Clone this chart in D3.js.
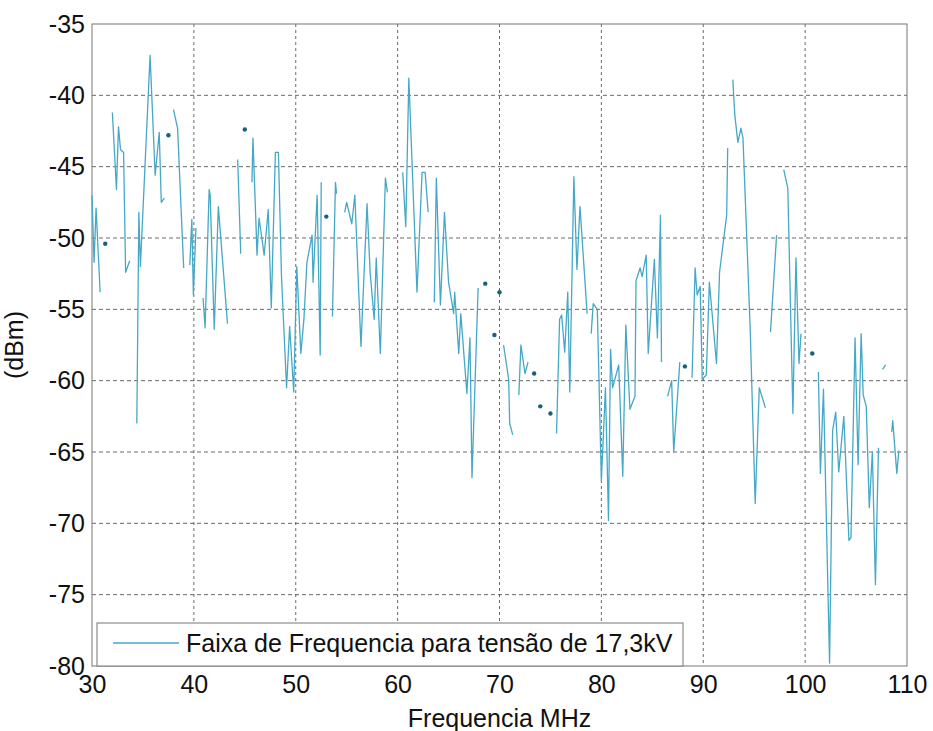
<!DOCTYPE html>
<html>
<head>
<meta charset="utf-8">
<script src="https://cdnjs.cloudflare.com/ajax/libs/d3/7.8.5/d3.min.js"></script>
<style>
  body { margin: 0; background: #fff; }
  text { font-family: Arial, "Liberation Sans", sans-serif; fill: #111; }
</style>
</head>
<body>
<div id="chart"></div>
<script>
// frequency (MHz) and level (dBm); null marks a gap in the trace
var freq = [
  30.0, 30.2, 30.4, 30.8, null,
  31.3, null,
  32.0, 32.4, 32.6, 32.8, 33.1, 33.3, 33.7, null,
  34.4, 34.6, 34.75, 35.7, 36.2, 36.6, 36.8, 37.1, null,
  37.5, null,
  38.0, 38.4, 39.0, null,
  39.6, 39.8, 39.95, 40.2, null,
  40.9, 41.1, 41.5, 41.6, 42.0, 42.4, 43.3, null,
  44.3, 44.6, null,
  45.0, null,
  45.7, 45.8, 46.2, 46.4, 46.9, 47.3, 47.6, 48.0, 48.3, 48.6, 49.1, 49.4, 49.8, 50.1, 50.5, 50.8, 51.1, 51.6, 51.7, 52.1, 52.4, 52.5, null,
  53.0, null,
  53.6, 53.9, 54.0, null,
  54.8, 55.0, 55.5, 55.8, 56.4, 57.0, 57.3, 57.7, 57.9, 58.3, 58.8, 59.0, null,
  60.5, 60.8, 61.1, 61.9, 62.4, 62.7, 63.0, null,
  63.6, 63.8, 64.2, 64.6, 65.0, 65.5, 65.6, 66.0, 66.2, 66.8, 67.1, 67.3, 67.9, null,
  68.6, null,
  69.5, null,
  70.0, null,
  70.4, 70.9, 71.0, 71.3, null,
  71.9, 72.1, 72.5, 72.8, null,
  73.4, null,
  74.0, null,
  75.0, null,
  75.6, 75.9, 76.1, 76.4, 76.7, 76.9, 77.3, 77.6, 77.9, 78.6, null,
  79.0, 79.2, 79.6, 80.0, 80.4, 80.7, 80.9, 81.1, 81.7, 82.1, 82.4, 82.8, 83.3, 83.4, 83.8, 84.0, 84.4, 84.6, 85.2, 85.5, 85.8, 85.9, null,
  86.5, 86.9, 87.1, 87.7, null,
  88.2, null,
  88.9, 89.2, 89.4, 89.7, 89.9, 90.3, 90.6, 91.3, 91.6, 92.3, 92.4, null,
  92.9, 93.1, 93.4, 93.7, 93.9, 94.6, 95.1, 95.5, 96.1, null,
  96.6, 97.2, null,
  97.9, 98.3, 98.8, 99.1, 99.4, 99.6, null,
  100.7, null,
  101.3, 101.5, 101.8, 102.4, 102.7, 103.0, 103.3, 103.8, 104.3, 104.5, 104.9, 105.2, 105.5, 105.7, 106.0, 106.3, 106.6, 106.9, 107.2, null,
  107.6, 107.9, null,
  108.5, 108.6, 109.0, 109.2
]
var dBm = [
  -47.0, -51.7, -47.9, -53.8, null,
  -50.4, null,
  -41.2, -46.6, -42.2, -43.8, -44.0, -52.4, -51.6, null,
  -63.0, -48.2, -52.0, -37.2, -45.6, -42.6, -47.5, -47.2, null,
  -42.8, null,
  -41.0, -42.3, -52.1, null,
  -51.9, -48.7, -54.0, -49.3, null,
  -54.2, -56.3, -46.6, -47.0, -56.4, -47.8, -56.0, null,
  -44.5, -51.1, null,
  -42.4, null,
  -46.1, -43.0, -51.2, -48.6, -51.2, -48.0, -54.9, -44.0, -44.0, -52.7, -60.5, -56.2, -60.8, -52.0, -58.1, -55.7, -51.7, -49.8, -53.1, -47.0, -58.2, -46.1, null,
  -48.5, null,
  -55.5, -46.1, -46.9, null,
  -48.2, -47.5, -49.0, -47.0, -57.6, -47.6, -52.4, -55.7, -51.4, -58.1, -45.8, -46.8, null,
  -45.4, -49.2, -38.8, -53.8, -45.4, -45.4, -48.2, null,
  -54.5, -45.8, -54.7, -48.2, -53.1, -55.3, -53.8, -58.1, -55.3, -60.9, -57.0, -66.8, -53.5, null,
  -53.2, null,
  -56.8, null,
  -53.8, null,
  -57.5, -59.9, -63.0, -63.8, null,
  -61.0, -57.5, -59.5, -58.7, null,
  -59.5, null,
  -61.8, null,
  -62.3, null,
  -63.7, -55.7, -55.4, -58.0, -53.8, -60.8, -45.7, -52.2, -47.8, -55.3, null,
  -56.7, -54.6, -55.0, -67.0, -60.5, -69.8, -57.8, -60.5, -58.9, -66.7, -56.1, -62.0, -61.1, -53.0, -52.1, -52.7, -51.2, -58.1, -51.5, -57.0, -48.4, -58.7, null,
  -61.1, -60.0, -65.0, -58.7, null,
  -59.0, null,
  -59.8, -52.1, -54.0, -53.4, -59.9, -59.6, -53.1, -58.8, -52.4, -48.4, -43.7, null,
  -38.9, -41.4, -43.3, -42.3, -43.0, -56.2, -68.6, -60.5, -61.9, null,
  -56.6, -49.8, null,
  -45.2, -46.5, -62.3, -51.4, -58.8, -56.7, null,
  -58.1, null,
  -59.4, -66.5, -60.6, -79.8, -63.5, -62.2, -66.4, -62.5, -71.2, -71.0, -57.0, -65.9, -56.7, -61.0, -61.8, -68.9, -65.0, -74.3, -64.7, null,
  -59.2, -58.9, null,
  -63.6, -62.8, -66.5, -64.9
]
var xTicks = [30, 40, 50, 60, 70, 80, 90, 100, 110]
var yTicks = [-80, -75, -70, -65, -60, -55, -50, -45, -40, -35]
var legendLabel = "Faixa de Frequencia para tensão de 17,3kV"

var lineColor = "#45a8c6"
var dotColor = "#17627c"

var margin = {top: 24, right: 26, bottom: 65, left: 92},
    width = 933 - margin.left - margin.right,
    height = 731 - margin.top - margin.bottom;

var svg = d3.select("#chart")
  .append("svg")
    .attr("width", 933)
    .attr("height", 731)
  .append("g")
    .attr("transform", "translate(" + margin.left + "," + margin.top + ")");

var x = d3.scaleLinear().domain([30, 110]).range([0, width])
var y = d3.scaleLinear().domain([-80, -35]).range([height, 0])

// grid
svg.append("g")
  .selectAll("line")
  .data(xTicks.slice(1, -1))
  .enter().append("line")
    .attr("x1", function(d) { return x(d) }).attr("x2", function(d) { return x(d) })
    .attr("y1", 0).attr("y2", height)
    .attr("stroke", "#444").attr("stroke-width", 0.8)
    .attr("stroke-dasharray", "3,3")
svg.append("g")
  .selectAll("line")
  .data(yTicks.slice(1, -1))
  .enter().append("line")
    .attr("y1", function(d) { return y(d) }).attr("y2", function(d) { return y(d) })
    .attr("x1", 0).attr("x2", width)
    .attr("stroke", "#444").attr("stroke-width", 0.8)
    .attr("stroke-dasharray", "4,3")

// axes (plain hyphen minus, like the original)
var fmt = function(d) { return String(d) }
var xAxis = svg.append("g")
  .attr("transform", "translate(0," + height + ")")
  .call(d3.axisBottom(x).tickValues(xTicks).tickFormat(fmt).tickSize(0).tickPadding(9))
var yAxis = svg.append("g")
  .call(d3.axisLeft(y).tickValues(yTicks).tickFormat(fmt).tickSize(0).tickPadding(7))
xAxis.select(".domain").remove()
yAxis.select(".domain").remove()
svg.selectAll(".tick text").style("font-size", "25px").attr("fill", "#111")

// frame
svg.append("rect")
  .attr("width", width).attr("height", height)
  .attr("fill", "none").attr("stroke", "#777").attr("stroke-width", 1)

// trace
var pts = freq.map(function(f, i) { return {f: f, v: dBm[i]} })
var line = d3.line()
  .defined(function(d) { return d.v !== null })
  .x(function(d) { return x(d.f) })
  .y(function(d) { return y(d.v) })

svg.append("path")
  .datum(pts)
  .attr("fill", "none")
  .attr("stroke", lineColor)
  .attr("stroke-width", 1.3)
  .attr("stroke-linejoin", "round")
  .attr("d", line)

// lone samples show up as dots
var lone = pts.filter(function(d, i) {
  return d.v !== null && (i == 0 || pts[i - 1].v === null) && (i == pts.length - 1 || pts[i + 1].v === null)
})
svg.selectAll("circle.dot")
  .data(lone)
  .enter().append("circle")
    .attr("class", "dot")
    .attr("cx", function(d) { return x(d.f) })
    .attr("cy", function(d) { return y(d.v) })
    .attr("r", 2.2)
    .attr("fill", dotColor)

// legend
var lg = svg.append("g").attr("transform", "translate(5," + (height - 43) + ")")
lg.append("rect")
  .attr("width", 586).attr("height", 43)
  .attr("fill", "#fff").attr("stroke", "#777").attr("stroke-width", 1)
lg.append("line")
  .attr("x1", 16).attr("x2", 82).attr("y1", 20).attr("y2", 20)
  .attr("stroke", lineColor).attr("stroke-width", 1.3)
lg.append("text")
  .attr("x", 89).attr("y", 29)
  .style("font-size", "25px")
  .text(legendLabel)

// axis titles
svg.append("text")
  .attr("x", width / 2).attr("y", height + 61)
  .attr("text-anchor", "middle")
  .style("font-size", "25px")
  .text("Frequencia MHz")
svg.append("text")
  .attr("transform", "translate(-69," + (height / 2) + ") rotate(-90)")
  .attr("text-anchor", "middle")
  .style("font-size", "25px")
  .text("(dBm)")
</script>
</body>
</html>
